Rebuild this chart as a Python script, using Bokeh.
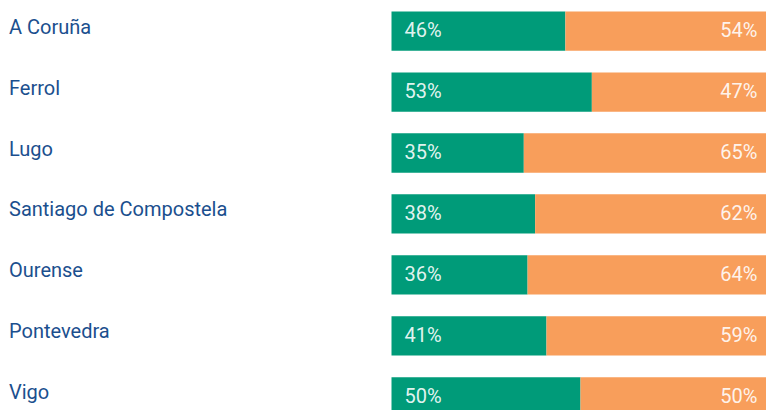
from bokeh.plotting import figure
from bokeh.models import Range1d, ColumnDataSource
from bokeh.core.properties import value
from bokeh.embed import file_html
from bokeh.resources import INLINE

cities = ["A Coruña", "Ferrol", "Lugo", "Santiago de Compostela", "Ourense", "Pontevedra", "Vigo"]
green_vals = [46, 53, 35, 38, 36, 41, 50]
orange_vals = [54, 47, 65, 62, 64, 59, 50]

GREEN = "#009B79"
ORANGE = "#F89E5B"
NAVY = "#1B4F8E"
FONT = "Roboto"

rows = list(range(len(cities)))
src = ColumnDataSource(dict(
    y=rows,
    city=cities,
    g=green_vals,
    o=orange_vals,
    total=[a + b for a, b in zip(green_vals, orange_vals)],
    zero=[0] * len(cities),
    glab=[f"{v}%" for v in green_vals],
    olab=[f"{v}%" for v in orange_vals],
))

W, H = 766, 410
px_per_unit_x = 3.78
left_px = 391
px_per_row = 60.95
first_center_px = 30.6
x_start = -left_px / px_per_unit_x

p = figure(width=W, height=H, output_backend="svg", toolbar_location=None,
           x_range=Range1d(x_start, (W - left_px) / px_per_unit_x),
           y_range=Range1d((H - first_center_px) / px_per_row, -first_center_px / px_per_row),
           min_border=0, min_border_left=0, min_border_right=0,
           min_border_top=0, min_border_bottom=0)
p.axis.visible = False
p.grid.visible = False
p.outline_line_color = None
p.background_fill_color = "white"
p.border_fill_color = "white"

bh = 39.3 / px_per_row
p.hbar(y="y", left="zero", right="g", height=bh, color=GREEN, line_color=None, source=src)
p.hbar(y="y", left="g", right="total", height=bh, color=ORANGE, line_color=None, source=src)

p.text(x="zero", y="y", text="glab", source=src, x_offset=13, y_offset=-1,
       text_font=value(FONT), text_font_size="20px", text_color="white", text_alpha=0.9,
       text_align="left", text_baseline="alphabetic")
p.text(x="total", y="y", text="olab", source=src, x_offset=-12, y_offset=-1,
       text_font=value(FONT), text_font_size="20px", text_color="white", text_alpha=0.9,
       text_align="right", text_baseline="alphabetic")

p.text(x=x_start, y="y", text="city", source=src,
       x_offset=8.5, y_offset=-4.5,
       text_font=value(FONT), text_font_size="20px", text_color=NAVY,
       text_align="left", text_baseline="alphabetic")

open("out.html", "w").write(file_html(p, INLINE))
